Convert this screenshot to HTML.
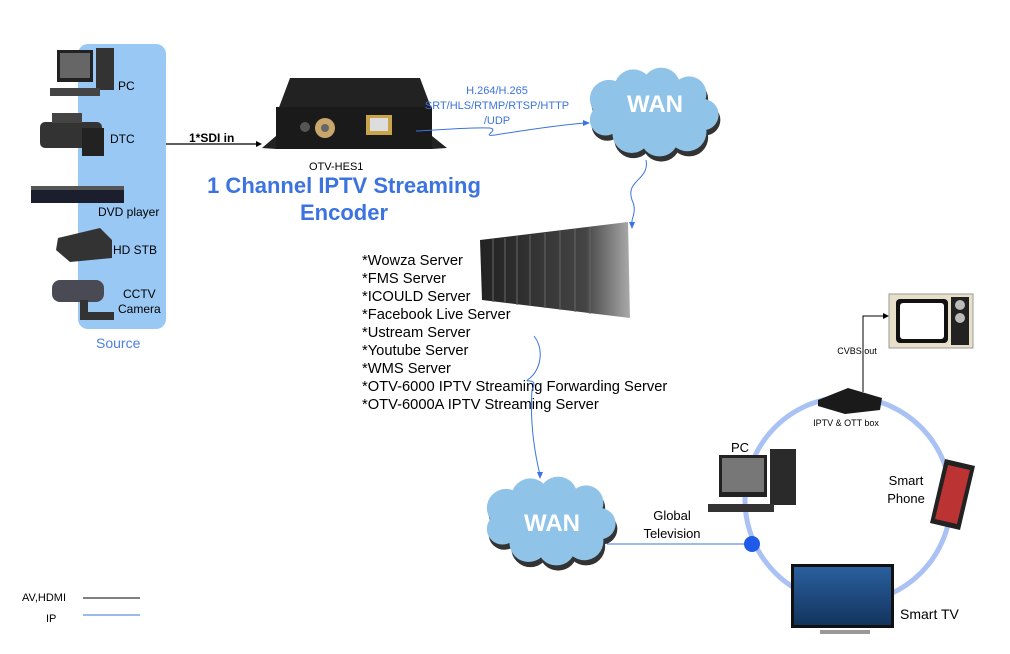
<!DOCTYPE html>
<html><head><meta charset="utf-8"><style>
html,body{margin:0;padding:0;background:#fff}
svg{display:block;font-family:"Liberation Sans",sans-serif}
</style></head><body>
<svg width="1010" height="654" viewBox="0 0 1010 654" xmlns="http://www.w3.org/2000/svg">
<defs>
<g id="cloud">
<circle cx="0" cy="0" r="22"/><circle cx="28" cy="-12" r="22"/><circle cx="60" cy="-14" r="22"/><circle cx="92" cy="-6" r="20"/><circle cx="108" cy="18" r="18"/><circle cx="90" cy="38" r="22"/><circle cx="58" cy="44" r="22"/><circle cx="26" cy="40" r="22"/><circle cx="-4" cy="24" r="18"/><rect x="0" y="-5" width="95" height="45"/>
</g>
<linearGradient id="rack" x1="0" x2="1"><stop offset="0" stop-color="#222"/><stop offset="0.7" stop-color="#444"/><stop offset="1" stop-color="#aaa"/></linearGradient>
<linearGradient id="scr" x1="0" y1="0" x2="0" y2="1"><stop offset="0" stop-color="#2a5f9e"/><stop offset="1" stop-color="#12345e"/></linearGradient>
</defs>

<rect x="78" y="44" width="88" height="285" rx="10" fill="#99c8f5"/>
<rect x="57" y="50" width="36" height="32" fill="#222"/><rect x="60" y="53" width="30" height="25" fill="#666"/>
<rect x="96" y="48" width="18" height="42" fill="#333"/><rect x="50" y="88" width="50" height="8" fill="#444"/>
<text x="118" y="90" font-size="12">PC</text>
<rect x="40" y="122" width="62" height="26" rx="5" fill="#333"/><rect x="82" y="128" width="22" height="28" fill="#222"/><rect x="52" y="113" width="30" height="10" fill="#444"/>
<text x="110" y="143" font-size="12">DTC</text>
<rect x="31" y="186" width="93" height="17" fill="#1b1e2c"/><rect x="31" y="186" width="93" height="4" fill="#555"/>
<text x="98" y="216" font-size="12">DVD player</text>
<polygon points="58,238 100,228 112,240 112,258 70,262 56,250" fill="#333"/>
<text x="113" y="254" font-size="12">HD STB</text>
<rect x="52" y="280" width="52" height="22" rx="8" fill="#4a4a55"/><rect x="80" y="300" width="8" height="18" fill="#333"/><rect x="80" y="312" width="34" height="8" fill="#333"/>
<text x="123" y="298" font-size="12">CCTV</text><text x="118" y="313" font-size="12">Camera</text>
<text x="96" y="348" font-size="14" fill="#4a7fe0">Source</text>

<line x1="166" y1="144" x2="258" y2="144" stroke="#000" stroke-width="1.2"/>
<polygon points="262,144 256,141 256,147"/>
<text x="189" y="142" font-size="12" font-weight="bold">1*SDI in</text>

<polygon points="290,78 420,78 432,110 278,110" fill="#222"/>
<rect x="276" y="107" width="156" height="42" fill="#1a1a1a"/>
<polygon points="262,148 276,136 276,149" fill="#222"/><polygon points="432,136 447,148 432,149" fill="#222"/>
<circle cx="325" cy="128" r="10" fill="#c9a66b"/><circle cx="325" cy="128" r="4" fill="#666"/>
<rect x="366" y="115" width="26" height="20" fill="#c9a44b"/><rect x="370" y="118" width="18" height="13" fill="#ddd"/>
<circle cx="305" cy="127" r="5" fill="#555"/>
<text x="309" y="170" font-size="11">OTV-HES1</text>
<text x="344" y="193" font-size="22" font-weight="bold" fill="#3b73e0" text-anchor="middle">1 Channel IPTV Streaming</text>
<text x="344" y="220" font-size="22" font-weight="bold" fill="#3b73e0" text-anchor="middle">Encoder</text>

<g font-size="11" fill="#3b73e0" text-anchor="middle"><text x="497" y="94">H.264/H.265</text><text x="497" y="109">SRT/HLS/RTMP/RTSP/HTTP</text><text x="497" y="124">/UDP</text></g>
<path d="M416,131 C440,130 470,127 490,128 C500,130 480,137 495,135 C520,131 560,125 585,123" fill="none" stroke="#3b73e0" stroke-width="1"/>
<polygon points="590,123 583,120 583,126" fill="#3b73e0"/>

<g transform="translate(609,99) scale(0.87)"><use href="#cloud" fill="#333" transform="translate(2,6)"/><use href="#cloud" fill="#8fc3e8"/></g>
<text x="655" y="112" font-size="24" font-weight="bold" fill="#fff" text-anchor="middle">WAN</text>
<path d="M646,160 C650,180 625,180 632,200 C638,212 630,220 632,225" fill="none" stroke="#3b73e0"/>
<polygon points="632,229 629,222 635,222" fill="#3b73e0"/>

<polygon points="480,240 628,222 630,318 482,300" fill="url(#rack)"/>
<g stroke="#666" stroke-width="1">
<line x1="493" y1="239" x2="493" y2="302"/><line x1="505" y1="238" x2="505" y2="303"/><line x1="517" y1="236" x2="517" y2="305"/><line x1="530" y1="235" x2="530" y2="306"/><line x1="545" y1="233" x2="545" y2="308"/><line x1="560" y1="231" x2="560" y2="310"/><line x1="575" y1="229" x2="575" y2="312"/><line x1="590" y1="227" x2="590" y2="314"/></g>

<g font-size="14.7"><text x="362" y="265">*Wowza Server</text><text x="362" y="283">*FMS Server</text><text x="362" y="301">*ICOULD Server</text><text x="362" y="319">*Facebook Live Server</text><text x="362" y="337">*Ustream Server</text><text x="362" y="355">*Youtube Server</text><text x="362" y="373">*WMS Server</text><text x="362" y="391">*OTV-6000 IPTV Streaming Forwarding Server</text><text x="362" y="409">*OTV-6000A IPTV Streaming Server</text></g>
<path d="M534,336 C545,350 540,370 530,378 C520,385 540,375 532,390 C530,420 534,450 540,475" fill="none" stroke="#3b73e0"/>
<polygon points="540,479 537,472 543,472" fill="#3b73e0"/>

<g transform="translate(506,508) scale(0.87)"><use href="#cloud" fill="#333" transform="translate(2,6)"/><use href="#cloud" fill="#8fc3e8"/></g>
<text x="552" y="531" font-size="24" font-weight="bold" fill="#fff" text-anchor="middle">WAN</text>

<line x1="607" y1="544" x2="752" y2="544" stroke="#3b73e0" stroke-width="1"/>
<text x="672" y="520" font-size="13" text-anchor="middle">Global</text><text x="672" y="538" font-size="13" text-anchor="middle">Television</text>

<circle cx="848" cy="500" r="103" fill="none" stroke="#a9c1f3" stroke-width="5"/>
<circle cx="752" cy="544" r="8" fill="#1f5ae8"/>

<polygon points="818,400 848,388 882,398 880,410 845,414 818,406" fill="#1a1a1a"/>
<text x="846" y="426" font-size="9" text-anchor="middle">IPTV &amp; OTT box</text>
<polyline points="863,392 863,316 885,316" fill="none" stroke="#000"/>
<polygon points="889,316 883,313 883,319"/>
<text x="857" y="354" font-size="9" text-anchor="middle">CVBS out</text>
<rect x="889" y="294" width="84" height="54" fill="#e7dfc8" stroke="#999"/>
<rect x="896" y="299" width="52" height="44" rx="4" fill="#111"/><rect x="900" y="303" width="44" height="36" rx="3" fill="#fff"/>
<rect x="951" y="297" width="18" height="48" fill="#222"/><circle cx="960" cy="305" r="5" fill="#bbb"/><circle cx="960" cy="318" r="5" fill="#bbb"/>

<text x="731" y="452" font-size="13">PC</text>
<rect x="719" y="455" width="48" height="42" fill="#222"/><rect x="722" y="458" width="42" height="34" fill="#777"/>
<rect x="770" y="449" width="26" height="56" fill="#2a2a2a"/><rect x="708" y="504" width="66" height="8" fill="#333"/>

<polygon points="945,459 975,466 960,530 930,523" fill="#222"/><polygon points="948,465 970,470 957,524 935,519" fill="#b33"/>
<text x="906" y="485" font-size="13" text-anchor="middle">Smart</text><text x="906" y="503" font-size="13" text-anchor="middle">Phone</text>

<rect x="791" y="564" width="103" height="64" fill="#111"/><rect x="794" y="567" width="97" height="58" fill="url(#scr)"/>
<rect x="820" y="630" width="50" height="4" fill="#999"/>
<text x="900" y="619" font-size="14">Smart TV</text>

<text x="22" y="601" font-size="11">AV,HDMI</text><line x1="83" y1="598" x2="140" y2="598" stroke="#000"/>
<text x="46" y="622" font-size="11">IP</text><line x1="83" y1="615" x2="140" y2="615" stroke="#3b73e0"/>
</svg>
</body></html>
